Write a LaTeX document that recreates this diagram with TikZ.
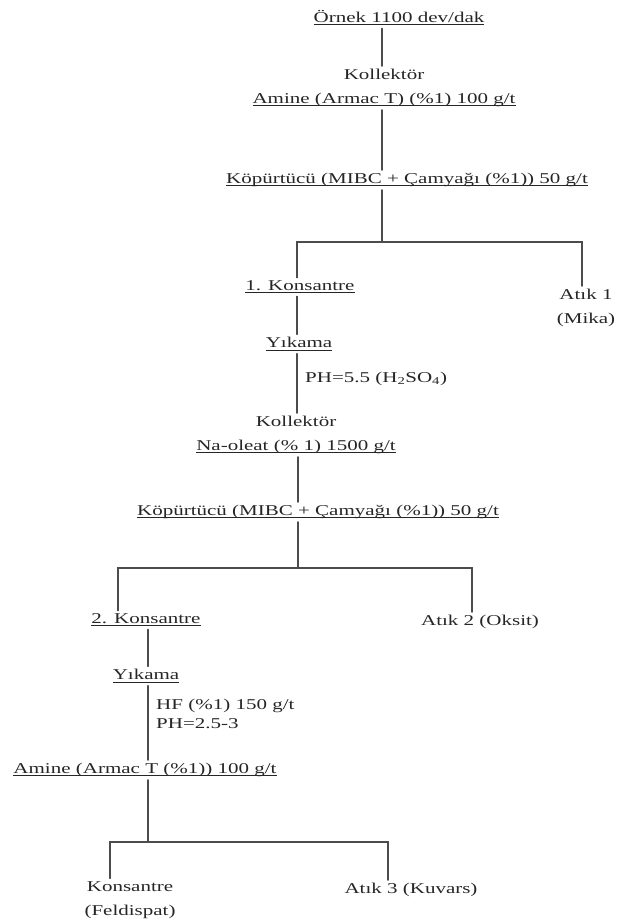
\documentclass[tikz,border=0pt]{standalone}
\usepackage{fontspec}
\setmainfont[FakeStretch=1.4]{Liberation Serif}
\newcommand\ulin[1]{\setbox0\hbox{#1}\rlap{\rule[-2.6pt]{\wd0}{0.9pt}}\box0}

\begin{document}
\begin{tikzpicture}[x=1pt,y=-1pt,line cap=round,flow/.style={draw=flowcolor,line width=1.7pt},step text/.style={text=textcolor,inner sep=3pt,align=center,font=\fontsize{15}{24}\selectfont},side text/.style={step text,anchor=west,align=left,font=\fontsize{15}{19}\selectfont}]
 \colorlet{flowcolor}{black!70}
 \colorlet{textcolor}{black!85}

 \useasboundingbox (0,0) rectangle (619,923);
 \clip (0,0) rectangle (619,923);

 % trunk and branch points
 \coordinate (t1) at (382,0);
 \coordinate (b1) at (382,242);
 \coordinate (b1l) at (297,242);
 \coordinate (b1r) at (582,242);
 \coordinate (b2) at (298,568);
 \coordinate (b2l) at (118,568);
 \coordinate (b2r) at (472,568);
 \coordinate (b3) at (148,842);
 \coordinate (b3l) at (110,842);
 \coordinate (b3r) at (388,842);

 % first stage
 \node[step text] (ornek) at (399,18) {\ulin{Örnek 1100 dev/dak}};
 \node[step text] (kol1) at (384,88) {Kollektör\\ \ulin{Amine (Armac T) (\%1) 100 g/t}};
 \node[step text] (kop1) at (407,180) {\ulin{Köpürtücü (MIBC + Çamyağı (\%1)) 50 g/t}};
 \node[step text] (kons1) at (300,287) {\ulin{1. Konsantre}};
 \node[step text] (atik1) at (586,308) {Atık 1\\(Mika)};

 \draw[flow] (ornek.south -| t1) -- (kol1.north -| t1);
 \draw[flow] (kol1.south -| t1) -- (kop1.north -| t1);
 \draw[flow] (kop1.south -| t1) -- (b1);
 \draw[flow] (kons1.north -| b1l) -- (b1l) -- (b1r) -- (atik1.north -| b1r);

 % second stage
 \node[step text] (yik1) at (299,344) {\ulin{Yıkama}};
 \node[side text] (ph1) at (302,379) {PH=5.5 (H\textsubscript{2}SO\textsubscript{4})};
 \node[step text] (kol2) at (296,435) {Kollektör\\ \ulin{Na-oleat (\% 1) 1500 g/t}};
 \node[step text] (kop2) at (318,512) {\ulin{Köpürtücü (MIBC + Çamyağı (\%1)) 50 g/t}};
 \node[step text] (kons2) at (146,620) {\ulin{2. Konsantre}};
 \node[step text] (atik2) at (480,622) {Atık 2 (Oksit)};

 \draw[flow] (kons1.south -| b1l) -- (yik1.north -| b1l);
 \draw[flow] (yik1.south -| b1l) -- (kol2.north -| b1l);
 \draw[flow] (kol2.south -| b2) -- (kop2.north -| b2);
 \draw[flow] (kop2.south -| b2) -- (b2);
 \draw[flow] (kons2.north -| b2l) -- (b2l) -- (b2r) -- (atik2.north -| b2r);

 % third stage
 \node[step text] (yik2) at (146,676) {\ulin{Yıkama}};
 \node[side text] (hf) at (153,714) {HF (\%1) 150 g/t\\PH=2.5-3};
 \node[step text] (amine2) at (145,770) {\ulin{Amine (Armac T (\%1)) 100 g/t}};
 \node[step text] (kons3) at (130,900) {Konsantre\\(Feldispat)};
 \node[step text] (atik3) at (411,890) {Atık 3 (Kuvars)};

 \draw[flow] (kons2.south -| b3) -- (yik2.north -| b3);
 \draw[flow] (yik2.south -| b3) -- (amine2.north -| b3);
 \draw[flow] (amine2.south -| b3) -- (b3);
 \draw[flow] (kons3.north -| b3l) -- (b3l) -- (b3r) -- (atik3.north -| b3r);
\end{tikzpicture}
\end{document}
